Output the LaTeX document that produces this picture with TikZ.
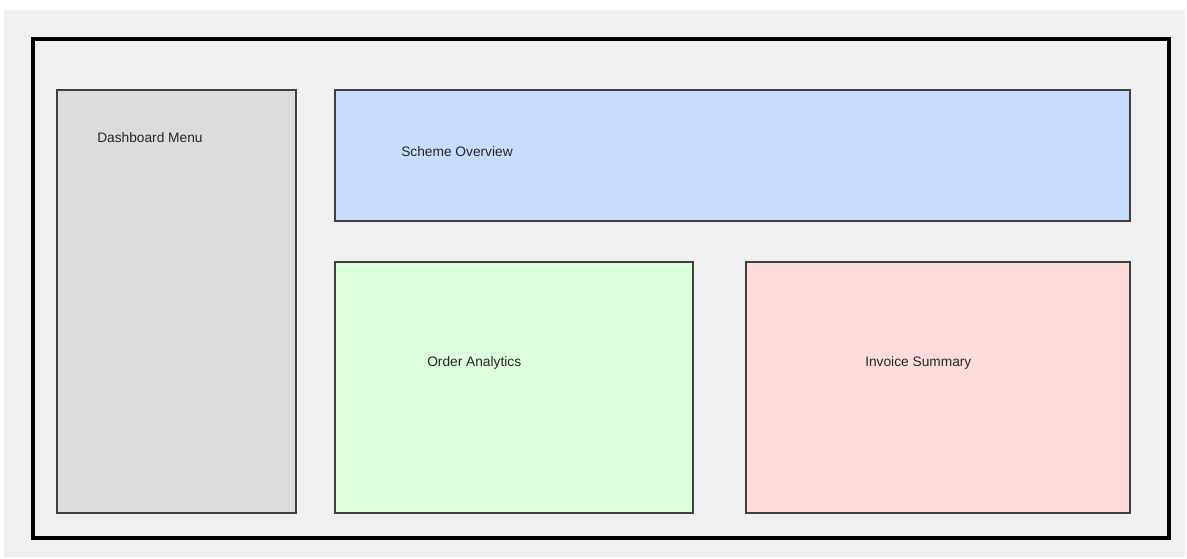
\documentclass[tikz,border=0pt]{standalone}
\usepackage{fontspec}
\setmainfont{Liberation Sans}
\definecolor{bggray}{HTML}{F0F0F0}
\definecolor{menugray}{HTML}{DCDCDC}
\definecolor{panelblue}{HTML}{C8DCFF}
\definecolor{panelgreen}{HTML}{DCFFDC}
\definecolor{panelpink}{HTML}{FFDCDC}
\definecolor{edgegray}{HTML}{404040}
\begin{document}
\begin{tikzpicture}[x=0.75pt,y=-0.75pt,
  panel/.style={draw=edgegray,line width=1.1pt},
  label/.style={anchor=west,inner sep=0pt,font=\fontsize{10.3}{12}\selectfont,text=black!85}]
\useasboundingbox (0,0) rectangle (1187,558);
\fill[bggray] (4,10) rectangle (1185,557);
\draw[line width=3pt,black] (33,39) rectangle (1169,538);
\path[panel,fill=menugray] (57,90) rectangle (296,513);
\path[panel,fill=panelblue] (335,90) rectangle (1130,221);
\path[panel,fill=panelgreen] (335,262) rectangle (693,513);
\path[panel,fill=panelpink] (746,262) rectangle (1130,513);
\node[label] (menu) at (97,138) {Dashboard Menu};
\node[label] (scheme) at (401,152) {Scheme Overview};
\node[label] (order) at (427,363) {Order Analytics};
\node[label] (invoice) at (865,363) {Invoice Summary};
\end{tikzpicture}
\end{document}
